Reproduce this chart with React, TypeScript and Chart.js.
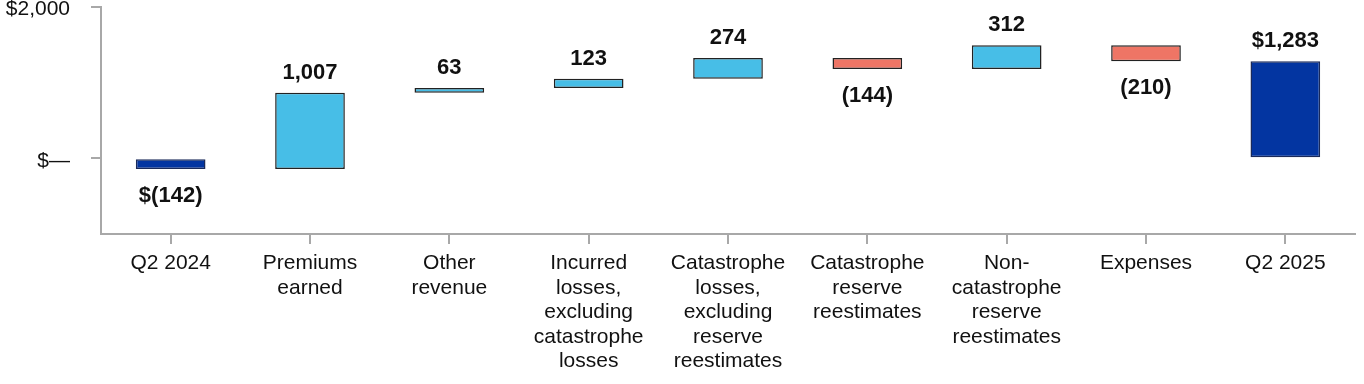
import React, { useEffect, useRef } from "react";
import { Chart, registerables } from "chart.js";

Chart.register(...registerables);

const categories: (string | string[])[] = [
  "Q2 2024",
  ["Premiums", "earned"],
  ["Other", "revenue"],
  ["Incurred", "losses,", "excluding", "catastrophe", "losses"],
  ["Catastrophe", "losses,", "excluding", "reserve", "reestimates"],
  ["Catastrophe", "reserve", "reestimates"],
  ["Non-", "catastrophe", "reserve", "reestimates"],
  "Expenses",
  "Q2 2025",
];

// change values; first and last entries are totals
const changes = [-142, 1007, 63, 123, 274, -144, 312, -210, 1283];
const isTotal = [true, false, false, false, false, false, false, false, true];

const yTickValues = [0, 2000];
const yMin = -1000;
const yMax = 2000;

const DARK = "#0335a1";
const LIGHT = "#47bee7";
const RED = "#ee7565";

function buildRanges(): [number, number][] {
  const out: [number, number][] = [];
  let run = 0;
  changes.forEach((v, i) => {
    if (isTotal[i]) {
      out.push([0, v]);
      run = v;
    } else {
      out.push([run, run + v]);
      run += v;
    }
  });
  return out;
}

function fmt(v: number, total: boolean) {
  const s = Math.abs(v).toLocaleString("en-US");
  const body = v < 0 ? `(${s})` : s;
  return total ? `$${body}` : body;
}

const labelPlugin = {
  id: "wfLabels",
  afterDatasetsDraw(chart: any) {
    const ctx = chart.ctx;
    const meta = chart.getDatasetMeta(0);
    ctx.save();
    ctx.font = "bold 22px 'Liberation Sans', Arial, sans-serif";
    ctx.fillStyle = "#111";
    ctx.textAlign = "center";
    ctx.textBaseline = "alphabetic";
    meta.data.forEach((bar: any, i: number) => {
      const v = changes[i];
      const top = Math.min(bar.y, bar.base);
      const bottom = Math.max(bar.y, bar.base);
      const text = fmt(v, isTotal[i]);
      if (v >= 0) {
        ctx.fillText(text, bar.x, top - 14);
      } else {
        ctx.fillText(text, bar.x, bottom + 33);
      }
    });
    ctx.restore();
  },
};

export default function App() {
  const ref = useRef<HTMLCanvasElement | null>(null);
  useEffect(() => {
    document.body.style.margin = "0";
    if (!ref.current) return;
    const colors = changes.map((v, i) => (isTotal[i] ? DARK : v >= 0 ? LIGHT : RED));
    const borders = changes.map((v, i) => (isTotal[i] ? "#1a2a5a" : "#222"));
    const chart = new Chart(ref.current, {
      type: "bar",
      data: {
        labels: categories as any,
        datasets: [
          {
            data: buildRanges() as any,
            backgroundColor: colors,
            borderColor: borders,
            borderWidth: 1.5,
            borderSkipped: false,
            categoryPercentage: 1,
            barPercentage: 0.5,
          },
        ],
      },
      options: {
        animation: false,
        responsive: false,
        maintainAspectRatio: false,
        layout: { padding: { left: 0, right: 9, top: 0, bottom: 3.5 } },
        plugins: {
          legend: { display: false },
          tooltip: { enabled: false },
        },
        scales: {
          x: {
            offset: true,
            border: { display: true, color: "#a8a8a8", width: 2 },
            grid: {
              display: true,
              offset: false,
              drawOnChartArea: false,
              drawTicks: true,
              tickLength: 10,
              color: "#a8a8a8",
              lineWidth: 2,
            },
            ticks: {
              autoSkip: false,
              maxRotation: 0,
              minRotation: 0,
              padding: 7,
              color: "#111",
              font: { family: "'Liberation Sans', Arial, sans-serif", size: 21, lineHeight: 1.167 },
            },
          },
          y: {
            min: yMin,
            max: yMax,
            afterBuildTicks: (axis: any) => {
              axis.ticks = yTickValues.map((v) => ({ value: v }));
            },
            afterFit: (s: any) => {
              s.width = 101;
              s.paddingTop = 7;
              s.paddingBottom = 0;
            },
            border: { display: true, color: "#a8a8a8", width: 2 },
            grid: {
              display: true,
              drawOnChartArea: false,
              drawTicks: true,
              tickLength: 10,
              color: "#a8a8a8",
              lineWidth: 2,
            },
            ticks: {
              padding: 21,
              labelOffset: 2.5,
              color: "#111",
              font: { family: "'Liberation Sans', Arial, sans-serif", size: 21 },
              callback: (v: any) => (Number(v) === 0 ? "$\u2014" : "$" + Number(v).toLocaleString("en-US")),
            },
          },
        },
      },
      plugins: [labelPlugin],
    });
    return () => chart.destroy();
  }, []);
  return (
    <div style={{ width: 1364, height: 384 }}>
      <canvas ref={ref} width={1364} height={384} style={{ display: "block", width: 1364, height: 384 }} />
    </div>
  );
}
